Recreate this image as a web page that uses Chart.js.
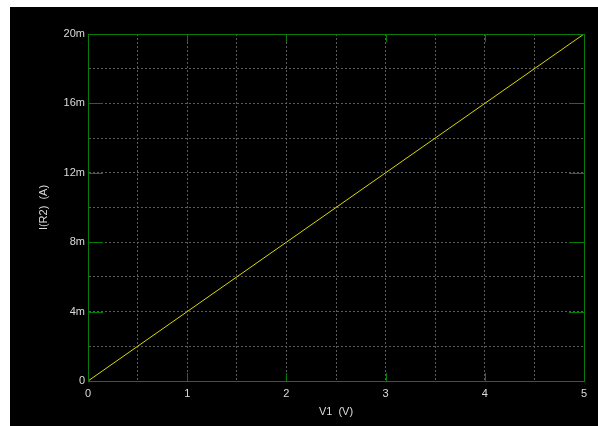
<!DOCTYPE html>
<html>
<head>
<meta charset="utf-8">
<script src="https://cdn.jsdelivr.net/npm/chart.js@4.4.0/dist/chart.umd.min.js"></script>
<style>
  body { margin: 0; background: #fff; }
  #plot { position: absolute; left: 10px; top: 7px; }
</style>
</head>
<body>
<canvas id="plot" width="588" height="419"></canvas>
<script>
// sweep of V1 against current through R2
const v1Volts = [0, 1, 2, 3, 4, 5];
const iR2Amps = [0, 0.004, 0.008, 0.012, 0.016, 0.020];
const xMajor = [1, 2, 3, 4];
const yMajor = [0.004, 0.008, 0.012, 0.016];

const green = '#087a08';
const txt = '#dcdcdc';

const framePlugin = {
  id: 'frame',
  beforeDraw(chart) {
    const c = chart.ctx;
    c.save();
    c.fillStyle = '#000';
    c.fillRect(0, 0, chart.width, chart.height);
    c.restore();
  },
  afterDraw(chart) {
    const c = chart.ctx, a = chart.chartArea;
    const xs = chart.scales.x, ys = chart.scales.y;
    c.save();
    c.strokeStyle = green;
    c.lineWidth = 1;
    c.strokeRect(Math.round(a.left) + 0.5, Math.round(a.top) + 0.5,
      Math.round(a.right - a.left), Math.round(a.bottom - a.top));
    c.beginPath();
    xMajor.forEach(v => {
      const px = Math.round(xs.getPixelForValue(v)) + 0.5;
      c.moveTo(px, a.bottom); c.lineTo(px, a.bottom - 8);
      c.moveTo(px, a.top); c.lineTo(px, a.top + 8);
    });
    yMajor.forEach(v => {
      const py = Math.round(ys.getPixelForValue(v)) + 0.5;
      c.moveTo(a.left, py); c.lineTo(a.left + 15, py);
      c.moveTo(a.right, py); c.lineTo(a.right - 15, py);
    });
    c.stroke();
    c.restore();
  }
};

new Chart(document.getElementById('plot'), {
  type: 'line',
  data: {
    datasets: [{
      data: v1Volts.map((v, i) => ({ x: v, y: iR2Amps[i] })),
      borderColor: '#d8d800',
      borderWidth: 1,
      pointRadius: 0,
      tension: 0
    }]
  },
  options: {
    responsive: false,
    animation: false,
    layout: { padding: { top: 27, right: 14, left: 0, bottom: 0 } },
    plugins: { legend: { display: false }, tooltip: { enabled: false } },
    scales: {
      x: {
        type: 'linear', min: 0, max: 5,
        afterFit(s) { s.height = 45; },
        ticks: {
          stepSize: 0.5, color: txt, padding: 6,
          font: { family: 'Liberation Sans', size: 11 },
          callback: v => Number.isInteger(v) ? String(v) : ''
        },
        grid: { color: '#5a5a5a', drawTicks: false },
        border: { color: green, dash: [2, 2] },
        title: {
          display: true, text: 'V1  (V)', color: txt,
          font: { family: 'Liberation Sans', size: 11 },
          padding: { top: 0, bottom: 7 }
        }
      },
      y: {
        type: 'linear', min: 0, max: 0.02,
        afterFit(s) { s.width = 78; },
        ticks: {
          stepSize: 0.002, color: txt, padding: 3,
          font: { family: 'Liberation Sans', size: 11 },
          callback: v => {
            const m = Math.round(v * 1000);
            if (m % 4 !== 0) return '';
            return m === 0 ? '0' : m + 'm';
          }
        },
        grid: { color: '#5a5a5a', drawTicks: false },
        border: { color: green, dash: [2, 2] },
        title: {
          display: true, text: 'I(R2)  (A)', color: txt,
          font: { family: 'Liberation Sans', size: 11 },
          padding: { top: 27, bottom: 0 }
        }
      }
    }
  },
  plugins: [framePlugin]
});
</script>
</body>
</html>
